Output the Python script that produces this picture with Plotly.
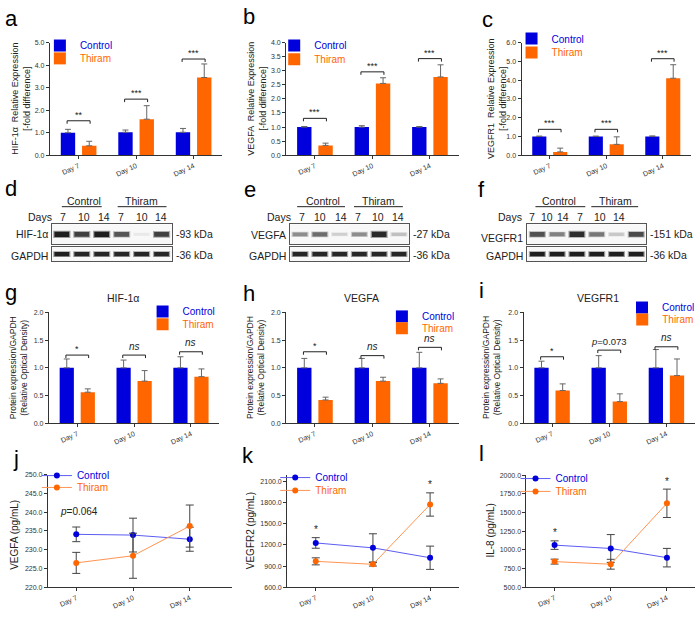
import plotly.graph_objects as go

OX, OY = 0, 0
W, H = 700, 617
FONT = "Liberation Sans, Arial, Helvetica, sans-serif"
BLUE = "#0000DC"
ORANGE = "#FF6600"
BLUE_LINE = "#5C5CF2"
ORANGE_LINE = "#FF9452"
ERR_BAR = "#666666"
ERR_LINE = "#444444"
AXC = "#333333"

# ---------------- data ----------------
days = ["Day 7", "Day 10", "Day 14"]
day_pos = [0, 1, 2]
groups = ["Control", "Thiram"]

# (a) HIF-1α relative expression (qPCR)
a_ctrl = [1.00, 1.02, 1.02]
a_ctrl_err = [0.15, 0.10, 0.17]
a_thir = [0.42, 1.60, 3.45]
a_thir_err = [0.20, 0.60, 0.60]
a_sig_y = [1.53, 2.49, 4.27]
a_sig = ["**", "***", "***"]

# (b) VEGFA relative expression
b_ctrl = [1.00, 1.00, 1.00]
b_ctrl_err = [0.02, 0.05, 0.02]
b_thir = [0.35, 2.55, 2.78]
b_thir_err = [0.08, 0.20, 0.43]
b_sig_y = [1.31, 2.96, 3.43]
b_sig = ["***", "***", "***"]

# (c) VEGFR1 relative expression
c_ctrl = [1.00, 1.00, 1.00]
c_ctrl_err = [0.02, 0.02, 0.03]
c_thir = [0.18, 0.58, 4.10]
c_thir_err = [0.20, 0.40, 0.72]
c_sig_y = [1.38, 1.38, 5.14]
c_sig = ["***", "***", "***"]

# (d,e,f) western blot band intensities (0..1), lanes: Control 7/10/14, Thiram 7/10/14
lane_days = ["7", "10", "14", "7", "10", "14"]
lanes = [1, 2, 3, 4, 5, 6]
d_hif = [0.95, 0.80, 0.95, 0.70, 0.03, 0.80]
d_gapdh = [0.95, 0.92, 0.92, 0.92, 0.92, 0.92]
e_vegfa = [0.45, 0.60, 0.15, 0.45, 0.90, 0.22]
e_gapdh = [0.92, 0.92, 0.92, 0.92, 0.92, 0.92]
f_vegfr1 = [0.72, 0.50, 0.88, 0.55, 0.18, 0.75]
f_gapdh = [0.95, 0.95, 0.95, 0.95, 0.95, 0.95]

# (g) HIF-1α protein / GAPDH
g_ctrl = [1.00, 1.00, 1.00]
g_ctrl_err = [0.16, 0.14, 0.20]
g_thir = [0.56, 0.76, 0.84]
g_thir_err = [0.06, 0.19, 0.14]
g_sig_y = [1.23, 1.23, 1.29]
g_sig = ["*", "ns", "ns"]

# (h) VEGFA protein / GAPDH
h_ctrl = [1.00, 1.00, 1.00]
h_ctrl_err = [0.17, 0.17, 0.28]
h_thir = [0.42, 0.76, 0.72]
h_thir_err = [0.05, 0.07, 0.08]
h_sig_y = [1.29, 1.22, 1.37]
h_sig = ["*", "ns", "ns"]

# (i) VEGFR1 protein / GAPDH
i_ctrl = [1.00, 1.00, 1.00]
i_ctrl_err = [0.12, 0.22, 0.33]
i_thir = [0.59, 0.39, 0.86]
i_thir_err = [0.12, 0.14, 0.30]
i_sig_y = [1.20, 1.32, 1.38]
i_sig = ["*", "p=0.073", "ns"]

# (j) VEGFA ELISA (pg/mL)
j_ctrl = [234.1, 233.9, 232.8]
j_ctrl_err = [1.95, 4.5, 3.2]
j_thir = [226.5, 228.4, 236.3]
j_thir_err = [2.8, 6.0, 5.6]
j_note = "p=0.064"

# (k) VEGFR2 ELISA (pg/mL)
k_ctrl = [1229, 1159, 1019]
k_ctrl_err = [75, 200, 165]
k_thir = [968, 926, 1774]
k_thir_err = [50, 25, 165]
k_star = ["*", "", "*"]

# (l) IL-8 ELISA (pg/mL)
l_ctrl = [1065, 1020, 897]
l_ctrl_err = [57, 186, 124]
l_thir = [844, 809, 1625]
l_thir_err = [33, 66, 190]
l_star = ["*", "", "*"]

# ---------------- helpers ----------------
fig = go.Figure()
layout = dict(width=W, height=H, autosize=False, margin=dict(l=0, r=0, t=0, b=0),
              paper_bgcolor="white", plot_bgcolor="white", barmode="overlay",
              font=dict(family=FONT, color="#222222"), showlegend=True)
annotations = []
shapes = []
n_axes = [0]
n_leg = [0]


def PX(x):
    return (x - OX) / W


def PY(y):
    return 1 - (y - OY) / H


def new_axes(x0, x1, y0, y1, xr, yr, kind="chart", dtick=None, fmt=".1f"):
    n_axes[0] += 1
    s = "" if n_axes[0] == 1 else str(n_axes[0])
    if kind == "chart":
        xa = dict(domain=[PX(x0), PX(x1)], range=xr, anchor="y" + s, showline=True,
                  linecolor=AXC, linewidth=1, ticks="outside", ticklen=3, tickcolor=AXC,
                  tickvals=day_pos, ticktext=days, tickangle=-25, showgrid=False, zeroline=False,
                  tickfont=dict(family=FONT, size=7, color="#333333"))
        ya = dict(domain=[PY(y1), PY(y0)], range=yr, anchor="x" + s, showline=True,
                  linecolor=AXC, linewidth=1, ticks="outside", ticklen=3, tickcolor=AXC,
                  dtick=dtick, tick0=yr[0], tickformat=fmt, showgrid=False, zeroline=False,
                  tickfont=dict(family=FONT, size=7, color="#333333"))
    else:
        xa = dict(domain=[PX(x0), PX(x1)], range=xr, anchor="y" + s, showline=True, mirror=True,
                  linecolor="#555555", linewidth=1, ticks="", showticklabels=False,
                  showgrid=False, zeroline=False)
        ya = dict(domain=[PY(y1), PY(y0)], range=yr, anchor="x" + s, showline=True,
                  mirror=True, linecolor="#555555", linewidth=1, ticks="", showticklabels=False,
                  showgrid=False, zeroline=False)
    layout["xaxis" + s] = xa
    layout["yaxis" + s] = ya
    return "x" + s, "y" + s


def add_legend(text_x, ypx, color):
    n_leg[0] += 1
    key = "legend" if n_leg[0] == 1 else "legend%d" % n_leg[0]
    layout[key] = dict(x=PX(text_x - 40), y=PY(ypx - 2), xanchor="left", yanchor="middle",
                       bgcolor="rgba(0,0,0,0)", borderwidth=0, tracegroupgap=0,
                       font=dict(family=FONT, size=10, color=color))
    return key


def text(xpx, ypx, s, size, color="#222222", xanchor="center", angle=0):
    annotations.append(dict(x=PX(xpx), y=PY(ypx), xref="paper", yref="paper", text=s,
                            showarrow=False, font=dict(family=FONT, size=size, color=color),
                            xanchor=xanchor, yanchor="middle", textangle=angle))


def sig_label(s):
    if s == "ns":
        return "<i>ns</i>", 10, 9
    if s.startswith("p="):
        return "<i>p</i>" + s[1:], 9.5, 9
    return s, 9, 6


def bar_panel(box, yr, dtick, ctrl, ctrl_err, thir, thir_err, sig_y, sig, leg):
    x0, x1, y0, y1 = box
    xa, ya = new_axes(x0, x1, y0, y1, [-0.5, 2.5], yr, "chart", dtick)
    lc = add_legend(leg[0], leg[1], BLUE)
    lt = add_legend(leg[0], leg[2], ORANGE)
    fig.add_trace(go.Bar(x=day_pos, y=ctrl, width=0.25, offset=-0.31, name=groups[0],
                         marker=dict(color=BLUE, line=dict(width=0)), xaxis=xa, yaxis=ya, legend=lc,
                         error_y=dict(type="data", array=ctrl_err, arrayminus=[0] * 3, symmetric=False,
                                      color=ERR_BAR, thickness=1, width=3)))
    fig.add_trace(go.Bar(x=day_pos, y=thir, width=0.25, offset=0.06, name=groups[1],
                         marker=dict(color=ORANGE, line=dict(width=0)), xaxis=xa, yaxis=ya, legend=lt,
                         error_y=dict(type="data", array=thir_err, arrayminus=[0] * 3, symmetric=False,
                                      color=ERR_BAR, thickness=1, width=3)))
    upp = (yr[1] - yr[0]) / (y1 - y0)
    drop = 3 * upp
    for p, yv, s in zip(day_pos, sig_y, sig):
        shapes.append(dict(type="path", xref=xa, yref=ya,
                           path="M %f,%f L %f,%f L %f,%f L %f,%f" % (p - 0.2, yv - drop, p - 0.2, yv,
                                                                      p + 0.2, yv, p + 0.2, yv - drop),
                           line=dict(color="#222222", width=1)))
        t, sz, sh = sig_label(s)
        annotations.append(dict(x=p, y=yv, xref=xa, yref=ya, text=t, showarrow=False,
                                font=dict(family=FONT, size=sz, color="#222222"),
                                yanchor="middle", yshift=sh))


def line_panel(box, xr, yr, dtick, ctrl, ctrl_err, thir, thir_err, leg, stars=None):
    x0, x1, y0, y1 = box
    xa, ya = new_axes(x0, x1, y0, y1, xr, yr, "chart", dtick)
    lc = add_legend(leg[0], leg[1], BLUE)
    lt = add_legend(leg[0], leg[2], ORANGE)
    fig.add_trace(go.Scatter(x=day_pos, y=ctrl, mode="lines+markers", name=groups[0],
                             line=dict(color=BLUE_LINE, width=1), marker=dict(color=BLUE, size=6),
                             xaxis=xa, yaxis=ya, legend=lc,
                             error_y=dict(type="data", array=ctrl_err, color=ERR_LINE, thickness=1, width=4)))
    fig.add_trace(go.Scatter(x=day_pos, y=thir, mode="lines+markers", name=groups[1],
                             line=dict(color=ORANGE_LINE, width=1), marker=dict(color=ORANGE, size=6),
                             xaxis=xa, yaxis=ya, legend=lt,
                             error_y=dict(type="data", array=thir_err, color=ERR_LINE, thickness=1, width=4)))
    if stars:
        for p, s, c, ce, t, te in zip(day_pos, stars, ctrl, ctrl_err, thir, thir_err):
            if s:
                top = max(c + ce, t + te)
                annotations.append(dict(x=p, y=top, xref=xa, yref=ya, text=s, showarrow=False,
                                        font=dict(family=FONT, size=10, color="#222222"),
                                        yanchor="middle", yshift=8))
    return xa, ya


def gray(v):
    g = int(round(240 - 220 * v))
    return "rgb(%d,%d,%d)" % (g, g, g)


def soft(v):
    g = int(round(244 - 90 * v))
    return "rgb(%d,%d,%d)" % (g, g, g)


def blot_row(x0, x1, y0, y1, intens, scale):
    xa, ya = new_axes(x0, x1, y0, y1, [0.5, 6.5], [0, 1], "blot")
    shapes.append(dict(type="rect", xref=xa + " domain", yref=ya + " domain", x0=0, x1=1, y0=0, y1=1,
                       fillcolor="#f8f8f8", line=dict(width=0), layer="below"))
    thick = [scale * (0.45 + 0.55 * v) for v in intens]
    outer = [t * 1.35 for t in thick]
    fig.add_trace(go.Bar(x=lanes, y=outer, base=[0.5 - t / 2 for t in outer], width=0.86,
                         marker=dict(color=[soft(v) for v in intens], line=dict(width=0)),
                         xaxis=xa, yaxis=ya, showlegend=False, hoverinfo="skip"))
    fig.add_trace(go.Bar(x=lanes, y=thick, base=[0.5 - t / 2 for t in thick], width=0.74,
                         marker=dict(color=[gray(v) for v in intens], line=dict(width=0)),
                         xaxis=xa, yaxis=ya, showlegend=False, hoverinfo="skip"))
    return xa, ya


# ---------------- row 1: qPCR bars ----------------
bar_panel((50, 223, 39, 153), [0, 5], 1, a_ctrl, a_ctrl_err, a_thir, a_thir_err, a_sig_y, a_sig, (80, 44, 57))
bar_panel((287, 460, 39, 153), [0, 4], 0.5, b_ctrl, b_ctrl_err, b_thir, b_thir_err, b_sig_y, b_sig, (315, 44, 58))
bar_panel((523, 693, 39, 153), [0, 6], 1, c_ctrl, c_ctrl_err, c_thir, c_thir_err, c_sig_y, c_sig, (553, 37, 51))

text(21, 96, "HIF-1α  Relative Expression<br>[-fold difference]", 9, angle=-90)
text(257.5, 96, "VEGFA  Relative Expression<br>[-fold difference]", 9, angle=-90)
text(498.5, 96, "VEGFR1  Relative Expression<br>[-fold difference]", 9, angle=-90)

# ---------------- row 2: western blots ----------------
blot_cfg = [
    (52, 172, "HIF-1α", "-93 kDa", d_hif, d_gapdh, [63, 84, 104, 121, 142, 161], (84, 142), (62, 102, 118, 167), 233),
    (291, 410, "VEGFA", "-27 kDa", e_vegfa, e_gapdh, [303, 321, 342, 359, 379, 399], (324, 380), (298, 346, 355, 404), 234),
    (529, 648, "VEGFR1", "-151 kDa", f_vegfr1, f_gapdh, [534, 549, 565, 582, 602, 621], (561, 617), (537, 587, 593, 640), 237),
]
for bx0, bx1, lab, kda, tint, gint, lpos, cpos, upos, laby in blot_cfg:
    blot_row(bx0, bx1, 223, 243, tint, 0.28)
    blot_row(bx0, bx1, 246, 260, gint, 0.32)
    text(bx0 - 2, laby, lab, 10.5, xanchor="right")
    text(bx0 - 2, 255, "GAPDH", 10.5, xanchor="right")
    text(bx1 + 2, 233, kda, 10.5, xanchor="left")
    text(bx1 + 2, 254, "-36 kDa", 10.5, xanchor="left")
    text(lpos[0] - 9, 215, "Days", 10.5, xanchor="right")
    for xp, dl in zip(lpos, lane_days):
        text(xp, 215, dl, 10.5)
    text(cpos[0], 199, "Control", 10.5)
    text(cpos[1], 199, "Thiram", 10.5)
    for ux0, ux1 in ((upos[0], upos[1]), (upos[2], upos[3])):
        shapes.append(dict(type="line", xref="paper", yref="paper", x0=PX(ux0), x1=PX(ux1),
                           y0=PY(205), y1=PY(205), line=dict(color="#222222", width=1)))

# ---------------- row 3: densitometry bars ----------------
bar_panel((49, 220, 312, 424), [0, 2], 0.5, g_ctrl, g_ctrl_err, g_thir, g_thir_err, g_sig_y, g_sig, (183, 313, 326))
bar_panel((287, 460, 312, 424), [0, 2], 0.5, h_ctrl, h_ctrl_err, h_thir, h_thir_err, h_sig_y, h_sig, (423, 318, 330))
bar_panel((525, 697, 312, 424), [0, 2], 0.5, i_ctrl, i_ctrl_err, i_thir, i_thir_err, i_sig_y, i_sig, (664, 309, 321))
for xc in (18.5, 257, 493.5):
    text(xc, 368, "Protein expression/GAPDH<br>(Relative Optical Density)", 8.5, angle=-90)
text(123, 297, "HIF-1α", 10.5)
text(363, 297, "VEGFA", 10.5)
text(600, 297, "VEGFR1", 10.5)

# ---------------- row 4: ELISA lines ----------------
jx, jy = line_panel((48, 233, 476, 590), [-0.5, 2.75], [220, 250], 5, j_ctrl, j_ctrl_err, j_thir, j_thir_err, (77, 479, 491))
annotations.append(dict(x=-0.33, y=240.2, xref=jx, yref=jy, text="<i>p</i>" + j_note[1:], showarrow=False,
                        font=dict(family=FONT, size=10, color="#222222"), xanchor="left", yanchor="middle"))
line_panel((288, 460, 476.7, 590), [-0.5, 2.5], [600, 2188], 300, k_ctrl, k_ctrl_err, k_thir, k_thir_err, (316, 481, 494), k_star)
line_panel((528, 697, 476.7, 590), [-0.5, 2.5], [500, 2000], 250, l_ctrl, l_ctrl_err, l_thir, l_thir_err, (557, 482, 495), l_star)
text(15, 537, "VEGFA (pg/mL)", 10, angle=-90)
text(252, 533, "VEGFR2 (pg/mL)", 10, angle=-90)
text(492, 533, "IL-8 (pg/mL)", 10, angle=-90)

# ---------------- panel letters ----------------
for lt, xp, yp in [("a", 12, 15), ("b", 250, 13), ("c", 489, 16), ("d", 11, 187), ("e", 251, 188),
                   ("f", 483, 188), ("g", 11, 292), ("h", 250, 293), ("i", 483, 290),
                   ("j", 16, 460), ("k", 249, 457), ("l", 483, 455)]:
    text(xp, yp, lt, 22, color="#000000")

layout["annotations"] = annotations
layout["shapes"] = shapes
fig.update_layout(**layout)
fig.write_html("out.html", config={"displayModeBar": False},
               post_script="document.body.style.margin='0px';")
